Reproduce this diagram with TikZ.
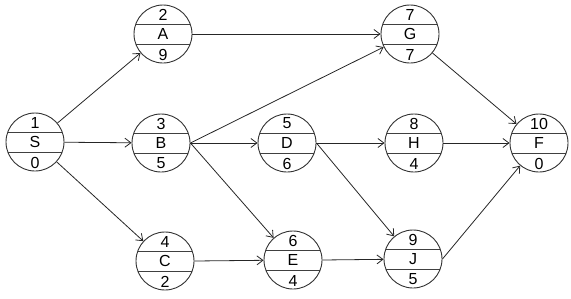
\documentclass[tikz,border=0pt]{standalone}
\usepackage{fontspec}
\setmainfont{Liberation Sans}
\usetikzlibrary{arrows.meta}
\tikzset{
  evnode/.style={circle, draw=black!80, line width=0.9pt, minimum size=58pt, inner sep=0pt,
    font=\fontsize{16}{16}\selectfont,
    path picture={
      \draw[black!75, line width=0.9pt] ([yshift=10pt]path picture bounding box.west) -- ([yshift=10pt]path picture bounding box.east);
      \draw[black!75, line width=0.9pt] ([yshift=-10pt]path picture bounding box.west) -- ([yshift=-10pt]path picture bounding box.east);
    }},
  numtext/.style={inner sep=0pt, font=\fontsize{16}{16}\selectfont},
  edge/.style={draw=black!85, line width=0.8pt, -{Straight Barb[length=6pt,width=9pt,line width=0.8pt]}}
}
\newcommand{\evt}[6]{%
  \node[evnode] (#1) at (#2,#3) {#5};
  \node[numtext] (#1t) at (#2,#3-19.5) {#4};
  \node[numtext] (#1b) at (#2,#3+20.5) {#6};
}
\begin{document}
\begin{tikzpicture}[x=1pt,y=-1pt]
\useasboundingbox (0,0) rectangle (571,298);
\evt{S}{35}{142}{1}{S}{0}
\evt{A}{163}{34}{2}{A}{9}
\evt{B}{161}{143}{3}{B}{5}
\evt{C}{165}{261}{4}{C}{2}
\evt{D}{287}{143}{5}{D}{6}
\evt{E}{293}{260}{6}{E}{4}
\evt{G}{410}{34}{7}{G}{7}
\evt{H}{414}{143}{8}{H}{4}
\evt{J}{413}{259}{9}{J}{5}
\evt{F}{539}{143}{10}{F}{0}
\draw[edge] (S) -- (A);
\draw[edge] (S) -- (B);
\draw[edge] (S) -- (C);
\draw[edge] (A.east) -- (G);
\draw[edge] (B.east) -- (G);
\draw[edge] (B.east) -- (D);
\draw[edge] (B.east) -- (E);
\draw[edge] (C.east) -- (E);
\draw[edge] (D.east) -- (H);
\draw[edge] (D.east) -- (J);
\draw[edge] (E.east) -- (J);
\draw[edge] (G) -- (F);
\draw[edge] (H.east) -- (F);
\draw[edge] (J.east) -- (F);
\end{tikzpicture}
\end{document}
